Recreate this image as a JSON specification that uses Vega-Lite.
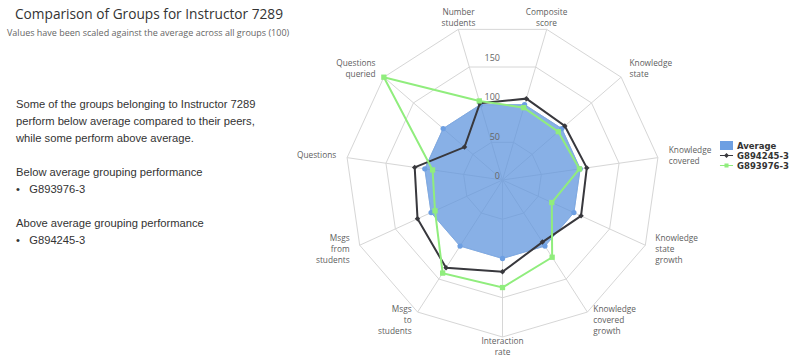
{
  "$schema": "https://vega.github.io/schema/vega-lite/v6.json",
  "padding": 0,
  "spacing": 0,
  "bounds": "flush",
  "config": {"view": {"stroke": null}},
  "datasets": {
    "series": [
      {"series": "Average", "axis": "Composite score", "value": 100},
      {"series": "Average", "axis": "Knowledge state", "value": 100},
      {"series": "Average", "axis": "Knowledge covered", "value": 100},
      {"series": "Average", "axis": "Knowledge state growth", "value": 100},
      {"series": "Average", "axis": "Knowledge covered growth", "value": 100},
      {"series": "Average", "axis": "Interaction rate", "value": 100},
      {"series": "Average", "axis": "Msgs to students", "value": 100},
      {"series": "Average", "axis": "Msgs from students", "value": 100},
      {"series": "Average", "axis": "Questions", "value": 100},
      {"series": "Average", "axis": "Questions queried", "value": 100},
      {"series": "Average", "axis": "Number students", "value": 100},
      {"series": "G894245-3", "axis": "Composite score", "value": 108},
      {"series": "G894245-3", "axis": "Knowledge state", "value": 105},
      {"series": "G894245-3", "axis": "Knowledge covered", "value": 108.5},
      {"series": "G894245-3", "axis": "Knowledge state growth", "value": 110},
      {"series": "G894245-3", "axis": "Knowledge covered growth", "value": 94},
      {"series": "G894245-3", "axis": "Interaction rate", "value": 117},
      {"series": "G894245-3", "axis": "Msgs to students", "value": 133},
      {"series": "G894245-3", "axis": "Msgs from students", "value": 119},
      {"series": "G894245-3", "axis": "Questions", "value": 113},
      {"series": "G894245-3", "axis": "Questions queried", "value": 64},
      {"series": "G894245-3", "axis": "Number students", "value": 102},
      {"series": "G893976-3", "axis": "Composite score", "value": 96},
      {"series": "G893976-3", "axis": "Knowledge state", "value": 94},
      {"series": "G893976-3", "axis": "Knowledge covered", "value": 99},
      {"series": "G893976-3", "axis": "Knowledge state growth", "value": 69},
      {"series": "G893976-3", "axis": "Knowledge covered growth", "value": 117},
      {"series": "G893976-3", "axis": "Interaction rate", "value": 137},
      {"series": "G893976-3", "axis": "Msgs to students", "value": 141},
      {"series": "G893976-3", "axis": "Msgs from students", "value": 94.5},
      {"series": "G893976-3", "axis": "Questions", "value": 90},
      {"series": "G893976-3", "axis": "Questions queried", "value": 200},
      {"series": "G893976-3", "axis": "Number students", "value": 105}
    ],
    "rings": [
      {"level": 50, "axis": ["Composite score", "Knowledge state", "Knowledge covered", "Knowledge state growth", "Knowledge covered growth", "Interaction rate", "Msgs to students", "Msgs from students", "Questions", "Questions queried", "Number students"]},
      {"level": 100, "axis": ["Composite score", "Knowledge state", "Knowledge covered", "Knowledge state growth", "Knowledge covered growth", "Interaction rate", "Msgs to students", "Msgs from students", "Questions", "Questions queried", "Number students"]},
      {"level": 150, "axis": ["Composite score", "Knowledge state", "Knowledge covered", "Knowledge state growth", "Knowledge covered growth", "Interaction rate", "Msgs to students", "Msgs from students", "Questions", "Questions queried", "Number students"]},
      {"level": 200, "axis": ["Composite score", "Knowledge state", "Knowledge covered", "Knowledge state growth", "Knowledge covered growth", "Interaction rate", "Msgs to students", "Msgs from students", "Questions", "Questions queried", "Number students"]}
    ],
    "ticks": [{"v": 0}, {"v": 50}, {"v": 100}, {"v": 150}]
  },
  "hconcat": [
    {
      "width": 300,
      "height": 362,
      "layer": [
        {
          "data": {"values": [{"line": 0, "text": "Comparison of Groups for Instructor 7289"}]},
          "mark": {"type": "text", "align": "left", "baseline": "middle", "font": "Open Sans", "fontSize": 13.7, "color": "#333333", "dx": 15, "dy": 15},
          "encoding": {
            "x": {"value": 0},
            "y": {"field": "line", "type": "quantitative", "scale": {"domain": [0, 21.294], "reverse": true, "nice": false, "zero": false}, "axis": null},
            "text": {"field": "text", "type": "nominal"}
          }
        },
        {
          "data": {"values": [{"line": 2, "text": "Values have been scaled against the average across all groups (100)"}]},
          "mark": {"type": "text", "align": "left", "baseline": "middle", "font": "Open Sans", "fontSize": 9, "color": "#666666", "dx": 7, "dy": -1},
          "encoding": {
            "x": {"value": 0},
            "y": {"field": "line", "type": "quantitative", "scale": {"domain": [0, 21.294], "reverse": true, "nice": false, "zero": false}, "axis": null},
            "text": {"field": "text", "type": "nominal"}
          }
        },
        {
          "data": {"values": [
            {"line": 6, "text": "Some of the groups belonging to Instructor 7289"},
            {"line": 7, "text": "perform below average compared to their peers,"},
            {"line": 8, "text": "while some perform above average."},
            {"line": 10, "text": "Below average grouping performance"},
            {"line": 11, "text": "•\u00a0\u00a0\u00a0G893976-3"},
            {"line": 13, "text": "Above average grouping performance"},
            {"line": 14, "text": "•\u00a0\u00a0\u00a0G894245-3"}
          ]},
          "mark": {"type": "text", "align": "left", "baseline": "middle", "font": "Liberation Sans", "fontSize": 11.2, "color": "#333333", "dx": 16, "dy": 3},
          "encoding": {
            "x": {"value": 0},
            "y": {"field": "line", "type": "quantitative", "scale": {"domain": [0, 21.294], "reverse": true, "nice": false, "zero": false}, "axis": null},
            "text": {"field": "text", "type": "nominal"}
          }
        }
      ]
    },
    {
      "width": 500,
      "height": 362,
      "layer": [
        {
          "data": {"name": "rings"},
          "transform": [
            {"flatten": ["axis"]},
            {"window": [{"op": "row_number", "as": "idx"}], "groupby": ["level"]},
            {"calculate": "(datum.idx - 0.5) * 2 * PI / 11", "as": "a"},
            {"calculate": "datum.level * sin(datum.a)", "as": "x"},
            {"calculate": "datum.level * cos(datum.a)", "as": "y"}
          ],
          "mark": {"type": "line", "interpolate": "linear-closed", "stroke": "#d6d6d6", "strokeWidth": 1},
          "encoding": {
            "x": {"field": "x", "type": "quantitative", "scale": {"domain": [-257.96, 378.98], "nice": false, "zero": false}, "axis": null},
            "y": {"field": "y", "type": "quantitative", "scale": {"domain": [-231.85, 229.3], "nice": false, "zero": false}, "axis": null},
            "detail": {"field": "level", "type": "nominal"},
            "order": {"field": "idx", "type": "quantitative"}
          }
        },
        {
          "data": {"name": "rings"},
          "transform": [
            {"flatten": ["axis"]},
            {"window": [{"op": "row_number", "as": "idx"}], "groupby": ["level"]},
            {"filter": "datum.level === 200"},
            {"calculate": "(datum.idx - 0.5) * 2 * PI / 11", "as": "a"},
            {"calculate": "datum.level * sin(datum.a)", "as": "x"},
            {"calculate": "datum.level * cos(datum.a)", "as": "y"},
            {"calculate": "0", "as": "c"}
          ],
          "mark": {"type": "rule", "stroke": "#d6d6d6", "strokeWidth": 1},
          "encoding": {
            "x": {"field": "c", "type": "quantitative", "scale": {"domain": [-257.96, 378.98], "nice": false, "zero": false}, "axis": null},
            "y": {"field": "c", "type": "quantitative", "scale": {"domain": [-231.85, 229.3], "nice": false, "zero": false}, "axis": null},
            "x2": {"field": "x"},
            "y2": {"field": "y"}
          }
        },
        {
          "data": {"name": "series"},
          "transform": [
            {"window": [{"op": "row_number", "as": "idx"}], "groupby": ["series"]},
            {"filter": "datum.series === 'Average'"},
            {"calculate": "(datum.idx - 0.5) * 2 * PI / 11", "as": "a"},
            {"calculate": "datum.value * sin(datum.a)", "as": "x"},
            {"calculate": "datum.value * cos(datum.a)", "as": "y"}
          ],
          "mark": {"type": "line", "interpolate": "linear-closed", "fill": "#5f95dd", "fillOpacity": 0.74, "stroke": "#7eaae5", "strokeWidth": 1},
          "encoding": {
            "x": {"field": "x", "type": "quantitative", "scale": {"domain": [-257.96, 378.98], "nice": false, "zero": false}, "axis": null},
            "y": {"field": "y", "type": "quantitative", "scale": {"domain": [-231.85, 229.3], "nice": false, "zero": false}, "axis": null},
            "order": {"field": "idx", "type": "quantitative"}
          }
        },
        {
          "data": {"name": "series"},
          "transform": [
            {"window": [{"op": "row_number", "as": "idx"}], "groupby": ["series"]},
            {"filter": "datum.series === 'Average'"},
            {"calculate": "(datum.idx - 0.5) * 2 * PI / 11", "as": "a"},
            {"calculate": "datum.value * sin(datum.a)", "as": "x"},
            {"calculate": "datum.value * cos(datum.a)", "as": "y"}
          ],
          "mark": {"type": "point", "filled": true, "opacity": 1, "size": 28, "shape": "circle", "color": "#6d9fe2"},
          "encoding": {
            "x": {"field": "x", "type": "quantitative", "scale": {"domain": [-257.96, 378.98], "nice": false, "zero": false}, "axis": null},
            "y": {"field": "y", "type": "quantitative", "scale": {"domain": [-231.85, 229.3], "nice": false, "zero": false}, "axis": null}
          }
        },
        {
          "data": {"name": "series"},
          "transform": [
            {"window": [{"op": "row_number", "as": "idx"}], "groupby": ["series"]},
            {"filter": "datum.series === 'G894245-3'"},
            {"calculate": "(datum.idx - 0.5) * 2 * PI / 11", "as": "a"},
            {"calculate": "datum.value * sin(datum.a)", "as": "x"},
            {"calculate": "datum.value * cos(datum.a)", "as": "y"}
          ],
          "mark": {"type": "line", "interpolate": "linear-closed", "strokeWidth": 2, "stroke": "#38383d"},
          "encoding": {
            "x": {"field": "x", "type": "quantitative", "scale": {"domain": [-257.96, 378.98], "nice": false, "zero": false}, "axis": null},
            "y": {"field": "y", "type": "quantitative", "scale": {"domain": [-231.85, 229.3], "nice": false, "zero": false}, "axis": null},
            "order": {"field": "idx", "type": "quantitative"}
          }
        },
        {
          "data": {"name": "series"},
          "transform": [
            {"window": [{"op": "row_number", "as": "idx"}], "groupby": ["series"]},
            {"filter": "datum.series === 'G894245-3'"},
            {"calculate": "(datum.idx - 0.5) * 2 * PI / 11", "as": "a"},
            {"calculate": "datum.value * sin(datum.a)", "as": "x"},
            {"calculate": "datum.value * cos(datum.a)", "as": "y"}
          ],
          "mark": {"type": "point", "filled": true, "opacity": 1, "size": 30, "shape": "diamond", "color": "#38383d"},
          "encoding": {
            "x": {"field": "x", "type": "quantitative", "scale": {"domain": [-257.96, 378.98], "nice": false, "zero": false}, "axis": null},
            "y": {"field": "y", "type": "quantitative", "scale": {"domain": [-231.85, 229.3], "nice": false, "zero": false}, "axis": null}
          }
        },
        {
          "data": {"name": "series"},
          "transform": [
            {"window": [{"op": "row_number", "as": "idx"}], "groupby": ["series"]},
            {"filter": "datum.series === 'G893976-3'"},
            {"calculate": "(datum.idx - 0.5) * 2 * PI / 11", "as": "a"},
            {"calculate": "datum.value * sin(datum.a)", "as": "x"},
            {"calculate": "datum.value * cos(datum.a)", "as": "y"}
          ],
          "mark": {"type": "line", "interpolate": "linear-closed", "strokeWidth": 2, "stroke": "#90ed7d"},
          "encoding": {
            "x": {"field": "x", "type": "quantitative", "scale": {"domain": [-257.96, 378.98], "nice": false, "zero": false}, "axis": null},
            "y": {"field": "y", "type": "quantitative", "scale": {"domain": [-231.85, 229.3], "nice": false, "zero": false}, "axis": null},
            "order": {"field": "idx", "type": "quantitative"}
          }
        },
        {
          "data": {"name": "series"},
          "transform": [
            {"window": [{"op": "row_number", "as": "idx"}], "groupby": ["series"]},
            {"filter": "datum.series === 'G893976-3'"},
            {"calculate": "(datum.idx - 0.5) * 2 * PI / 11", "as": "a"},
            {"calculate": "datum.value * sin(datum.a)", "as": "x"},
            {"calculate": "datum.value * cos(datum.a)", "as": "y"}
          ],
          "mark": {"type": "point", "filled": true, "opacity": 1, "size": 28, "shape": "square", "color": "#90ed7d"},
          "encoding": {
            "x": {"field": "x", "type": "quantitative", "scale": {"domain": [-257.96, 378.98], "nice": false, "zero": false}, "axis": null},
            "y": {"field": "y", "type": "quantitative", "scale": {"domain": [-231.85, 229.3], "nice": false, "zero": false}, "axis": null}
          }
        },
        {
          "data": {"name": "series"},
          "transform": [
            {"filter": "false"},
            {"calculate": "0", "as": "c"}
          ],
          "mark": {"type": "point", "filled": true, "opacity": 1},
          "encoding": {
            "x": {"field": "c", "type": "quantitative", "scale": {"domain": [-257.96, 378.98], "nice": false, "zero": false}, "axis": null},
            "y": {"field": "c", "type": "quantitative", "scale": {"domain": [-231.85, 229.3], "nice": false, "zero": false}, "axis": null},
            "shape": {
              "field": "series", "type": "nominal",
              "scale": {"domain": ["Average", "G894245-3", "G893976-3"], "range": ["M-1.45,-1H1.45V1H-1.45Z", "M-1.45,-0.12H1.45V0.12H-1.45Z M0,-0.55L0.55,0L0,0.55L-0.55,0Z", "M-1.45,-0.12H1.45V0.12H-1.45Z M-0.45,-0.45H0.45V0.45H-0.45Z"]},
              "legend": null
            },
            "color": {
              "field": "series", "type": "nominal",
              "scale": {"domain": ["Average", "G894245-3", "G893976-3"], "range": ["#6d9fe2", "#38383d", "#90ed7d"]},
              "legend": {
                "title": null, "orient": "none", "legendX": 722, "legendY": 141, "padding": 0,
                "symbolSize": 81, "labelFont": "DejaVu Sans", "labelFontSize": 8.5, "labelFontWeight": "bold", "labelColor": "#333333",
                "rowPadding": 1, "labelOffset": 6, "symbolStrokeWidth": 0, "symbolOpacity": 1
              }
            }
          }
        },
        {
          "data": {"name": "ticks"},
          "transform": [{"calculate": "0", "as": "c"}],
          "mark": {"type": "text", "align": "right", "baseline": "alphabetic", "dx": -2.5, "dy": -1, "font": "Open Sans", "fontSize": 9, "color": "#666666"},
          "encoding": {
            "x": {"field": "c", "type": "quantitative", "scale": {"domain": [-257.96, 378.98], "nice": false, "zero": false}, "axis": null},
            "y": {"field": "v", "type": "quantitative", "scale": {"domain": [-231.85, 229.3], "nice": false, "zero": false}, "axis": null},
            "text": {"field": "v", "type": "quantitative"}
          }
        },
        {
          "data": {"name": "rings"},
          "transform": [
            {"flatten": ["axis"]},
            {"window": [{"op": "row_number", "as": "idx"}], "groupby": ["level"]},
            {"filter": "datum.level === 200"},
            {"calculate": "(datum.idx - 0.5) * 2 * PI / 11", "as": "a"},
            {"calculate": "sin(datum.a)", "as": "s"},
            {"filter": "datum.s > 0.3"},
            {"calculate": "length(split(datum.axis, ' '))", "as": "nl"},
            {"calculate": "214 * sin(datum.a)", "as": "lx"},
            {"calculate": "214 * cos(datum.a) + (datum.nl - 1) * 7.006", "as": "ly"}
          ],
          "mark": {"type": "text", "align": "left", "baseline": "middle", "lineBreak": " ", "lineHeight": 11, "font": "Open Sans", "fontSize": 8.3, "color": "#606060"},
          "encoding": {
            "x": {"field": "lx", "type": "quantitative", "scale": {"domain": [-257.96, 378.98], "nice": false, "zero": false}, "axis": null},
            "y": {"field": "ly", "type": "quantitative", "scale": {"domain": [-231.85, 229.3], "nice": false, "zero": false}, "axis": null},
            "text": {"field": "axis", "type": "nominal"}
          }
        },
        {
          "data": {"name": "rings"},
          "transform": [
            {"flatten": ["axis"]},
            {"window": [{"op": "row_number", "as": "idx"}], "groupby": ["level"]},
            {"filter": "datum.level === 200"},
            {"calculate": "(datum.idx - 0.5) * 2 * PI / 11", "as": "a"},
            {"calculate": "sin(datum.a)", "as": "s"},
            {"filter": "datum.s < -0.3"},
            {"calculate": "length(split(datum.axis, ' '))", "as": "nl"},
            {"calculate": "214 * sin(datum.a)", "as": "lx"},
            {"calculate": "214 * cos(datum.a) + (datum.nl - 1) * 7.006", "as": "ly"}
          ],
          "mark": {"type": "text", "align": "right", "baseline": "middle", "lineBreak": " ", "lineHeight": 11, "font": "Open Sans", "fontSize": 8.3, "color": "#606060"},
          "encoding": {
            "x": {"field": "lx", "type": "quantitative", "scale": {"domain": [-257.96, 378.98], "nice": false, "zero": false}, "axis": null},
            "y": {"field": "ly", "type": "quantitative", "scale": {"domain": [-231.85, 229.3], "nice": false, "zero": false}, "axis": null},
            "text": {"field": "axis", "type": "nominal"}
          }
        },
        {
          "data": {"name": "rings"},
          "transform": [
            {"flatten": ["axis"]},
            {"window": [{"op": "row_number", "as": "idx"}], "groupby": ["level"]},
            {"filter": "datum.level === 200"},
            {"calculate": "(datum.idx - 0.5) * 2 * PI / 11", "as": "a"},
            {"calculate": "sin(datum.a)", "as": "s"},
            {"filter": "datum.s >= -0.3 && datum.s <= 0.3"},
            {"calculate": "length(split(datum.axis, ' '))", "as": "nl"},
            {"calculate": "214 * sin(datum.a) * 0.93", "as": "lx"},
            {"calculate": "214 * cos(datum.a) + (datum.nl - 1) * 7.006", "as": "ly"}
          ],
          "mark": {"type": "text", "align": "center", "baseline": "middle", "lineBreak": " ", "lineHeight": 11, "font": "Open Sans", "fontSize": 8.3, "color": "#606060"},
          "encoding": {
            "x": {"field": "lx", "type": "quantitative", "scale": {"domain": [-257.96, 378.98], "nice": false, "zero": false}, "axis": null},
            "y": {"field": "ly", "type": "quantitative", "scale": {"domain": [-231.85, 229.3], "nice": false, "zero": false}, "axis": null},
            "text": {"field": "axis", "type": "nominal"}
          }
        }
      ]
    }
  ]
}
